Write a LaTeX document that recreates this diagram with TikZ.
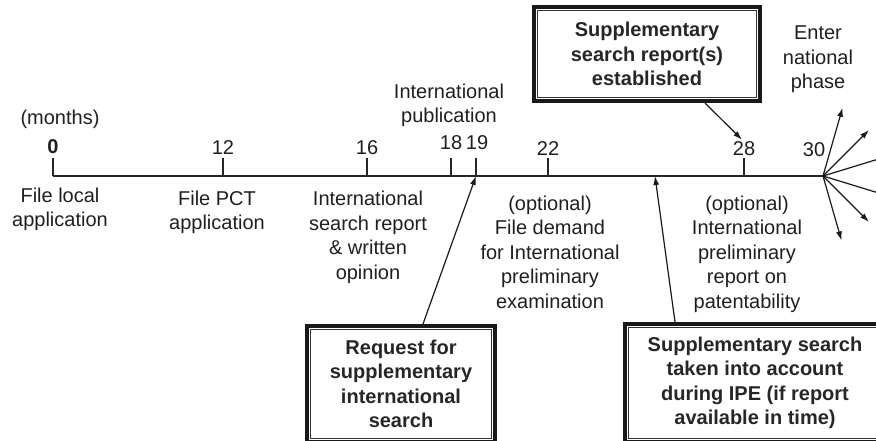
\documentclass[tikz,border=0pt]{standalone}
\usepackage{fontspec}
\setmainfont{Liberation Sans}
\usetikzlibrary{arrows.meta}

\begin{document}
\begin{tikzpicture}[x=1pt,y=-1pt,
  lbl/.style={font=\fontsize{20}{24.5}\selectfont, align=center, inner sep=0pt, text=black!88},
  framebox/.style={draw=black!90, line width=4pt, inner sep=0pt, align=center,
    font=\fontsize{20}{24.5}\selectfont\bfseries, text=black!85,
    path picture={\draw[line width=1.3pt, black!80]
      ([shift={(3.5pt,3.5pt)}]path picture bounding box.south west) rectangle
      ([shift={(-3.5pt,-3.5pt)}]path picture bounding box.north east);}},
  axisline/.style={line width=2pt, black!85},
  tickmark/.style={line width=1.5pt, black!85},
  arr/.style={line width=1.2pt, black!90, -{Latex[length=9pt,width=6pt]}},
]
\useasboundingbox (0,0) rectangle (876,441);
\clip (0,0) rectangle (876,441);

% points on the time axis (months)
\coordinate (a0)  at (53,176);
\coordinate (a12) at (223,176);
\coordinate (a16) at (367,176);
\coordinate (a18) at (451,176);
\coordinate (a19) at (476,176);
\coordinate (a22) at (548,176);
\coordinate (aipe) at (655,176);
\coordinate (a28) at (744,176);
\coordinate (a30) at (823,176);

% axis and ticks
\draw[axisline] (a0) -- (a30);
\foreach \t in {a0,a12,a16,a18,a19,a22,a28}
  \draw[tickmark] (\t) -- ++(0,-18);

% tick labels
\node[lbl, font=\fontsize{20}{24.5}\selectfont\bfseries] (n0) at (53,147) {0};
\node[lbl] (n12) at (223,148) {12};
\node[lbl] (n16) at (367,148) {16};
\node[lbl] (n18) at (451,143) {18};
\node[lbl] (n19) at (477,143) {19};
\node[lbl] (n22) at (548,149) {22};
\node[lbl] (n28) at (744,149) {28};
\node[lbl] (n30) at (814,150) {30};

% labels above the axis
\node[lbl] (months) at (60,119) {(months)};
\node[lbl] (pub) at (449,105.5) {International\\publication};
\node[lbl] (enter) at (818,59.5) {Enter\\national\\phase};

% labels below the axis
\node[lbl] (local) at (60,209.5) {File local\\application};
\node[lbl] (pct) at (217,212.5) {File PCT\\application};
\node[lbl] (isr) at (368,237.5) {International\\search report\\\& written\\opinion};
\node[lbl] (demand) at (550,252) {(optional)\\File demand\\for International\\preliminary\\examination};
\node[lbl] (iprp) at (747,254) {(optional)\\International\\preliminary\\report on\\patentability};

% framed boxes
\node[framebox, minimum width=226pt, minimum height=94pt] (sup) at (647,54)
  {Supplementary\\search report(s)\\established};
\node[framebox, minimum width=188pt, minimum height=116pt] (req) at (401,384)
  {Request for\\supplementary\\international\\search};
\node[framebox, minimum width=260pt, minimum height=118pt] (ipe) at (755,383)
  {Supplementary search\\taken into account\\during IPE (if report\\available in time)};

% connectors
\draw[arr] ([xshift=22pt]req.north) -- (a19);
\draw[arr] ([xshift=-80pt]ipe.north) -- (aipe);
\draw[arr] ([xshift=58pt]sup.south) -- ([xshift=-2pt,yshift=2pt]n28.north);

% national phase fan
\foreach \ang/\len in {74/71, 45/65, 17/68, -17/68, -45/65, -74/67}
  \draw[arr] (a30) -- ++(\ang:\len pt);
\end{tikzpicture}
\end{document}
